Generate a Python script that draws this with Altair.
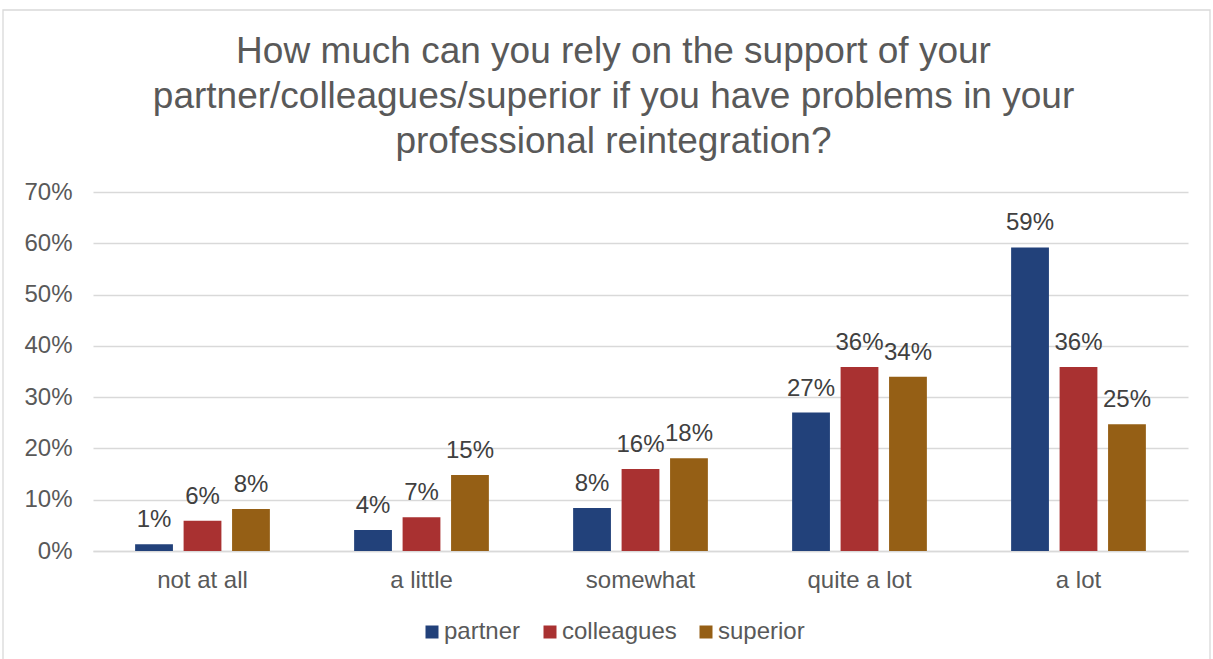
import altair as alt
import pandas as pd

categories = ["not at all", "a little", "somewhat", "quite a lot", "a lot"]
series = ["partner", "colleagues", "superior"]
partner = [1.3, 4.1, 8.4, 27.0, 59.2]
colleagues = [5.9, 6.6, 16.0, 35.9, 35.9]
superior = [8.2, 14.8, 18.1, 34.0, 24.7]
colors = ["#22417a", "#a93131", "#955f15"]

rows = []
for s, vals in zip(series, [partner, colleagues, superior]):
    for c, v in zip(categories, vals):
        rows.append({"category": c, "series": s, "value": v / 100.0,
                     "label": f"{round(v):d}%"})
df = pd.DataFrame(rows)

FONT = "Liberation Sans"

x = alt.X("category:N", sort=categories, title=None,
          scale=alt.Scale(paddingInner=0.336, paddingOuter=0.168),
          axis=alt.Axis(labelAngle=0, labelFontSize=24, labelColor="#595959",
                        labelFont=FONT, ticks=False, domainColor="#d9d9d9",
                        domainWidth=1.3, labelPadding=17))
xo = alt.XOffset("series:N", sort=series,
                 scale=alt.Scale(paddingInner=0.22, paddingOuter=0.11))
y = alt.Y("value:Q", title=None,
          scale=alt.Scale(domain=[0, 0.7]),
          axis=alt.Axis(format=".0%", values=[0, .1, .2, .3, .4, .5, .6, .7],
                        labelFontSize=24, labelColor="#595959", labelFont=FONT,
                        ticks=False, domain=False, gridColor="#d9d9d9",
                        gridWidth=1.3, labelPadding=21))

bars = alt.Chart(df).mark_bar().encode(
    x=x, xOffset=xo, y=y,
    color=alt.Color("series:N", sort=series,
                    scale=alt.Scale(domain=series, range=colors),
                    legend=alt.Legend(title=None, orient="none", direction="horizontal",
                                      legendX=327, legendY=428,
                                      symbolType="square", symbolSize=169,
                                      symbolStrokeWidth=0,
                                      labelFontSize=24, labelColor="#595959",
                                      labelFont=FONT, labelOffset=0,
                                      columnPadding=17))
)

labels = alt.Chart(df).mark_text(baseline="alphabetic", dy=-17, fontSize=24,
                                 color="#404040", font=FONT).encode(
    x=x, xOffset=xo, y=y, text="label:N"
)

frame = alt.Chart(pd.DataFrame({"a": [0]})).mark_rect(
    fill=None, stroke="#d9d9d9", strokeWidth=1.3
).encode(x=alt.value(-90), x2=alt.value(1117), y=alt.value(-182), y2=alt.value(480))

chart = alt.layer(frame, bars, labels).properties(
    width=1095, height=359,
    background="white",
    title=alt.TitleParams(
        text=["How much can you rely on the support of your",
              "partner/colleagues/superior if you have problems in your",
              "professional reintegration?"],
        fontSize=37, font=FONT, color="#595959", fontWeight="normal",
        anchor="middle", frame="group", dx=-27, offset=-181, lineHeight=45,
        baseline="alphabetic"),
    autosize=alt.AutoSizeParams(type="none"),
    padding={"left": 93, "top": 192, "right": 25, "bottom": 108},
).configure_view(strokeWidth=0)

chart.save("out.html", embed_options={"renderer": "svg", "actions": False})
